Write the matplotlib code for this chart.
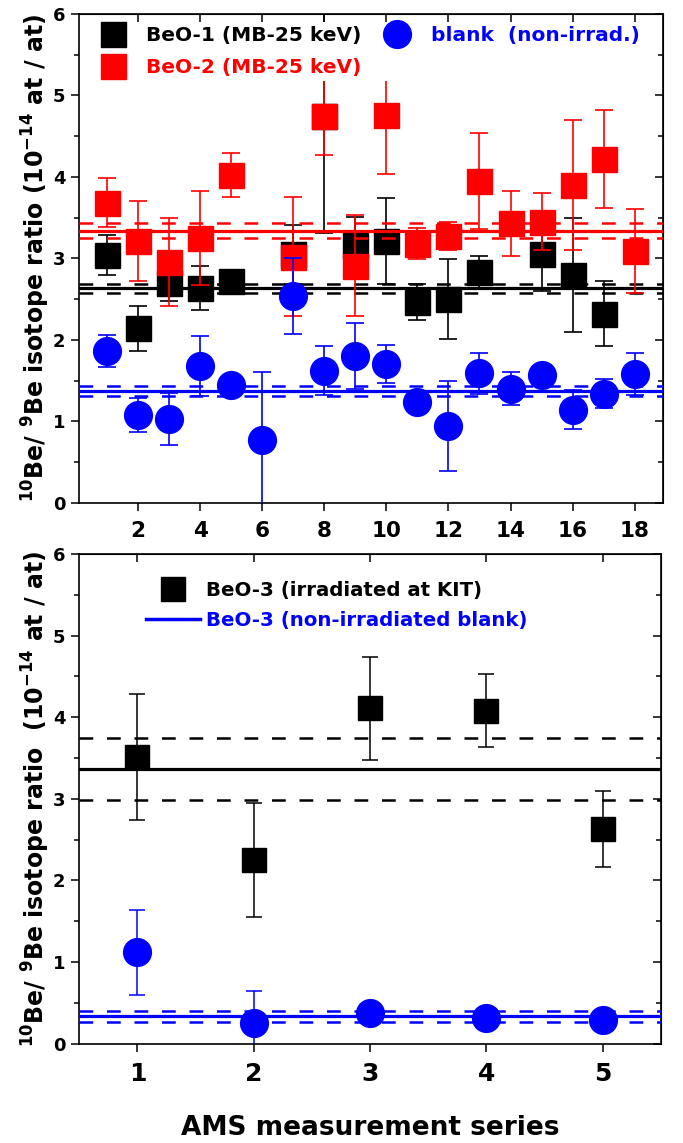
import matplotlib
matplotlib.use('Agg')
import matplotlib.pyplot as plt
from matplotlib.lines import Line2D
from matplotlib.ticker import MultipleLocator

plt.rcParams['font.family'] = ['DejaVu Sans']
plt.rcParams['font.weight'] = 'bold'
plt.rcParams['mathtext.fontset'] = 'dejavusans'
plt.rcParams['mathtext.default'] = 'bf'

# top panel: MB-25 keV samples and blank
beo1_x = [1, 2, 3, 4, 5, 7, 8, 9, 10, 11, 12, 13, 15, 16, 17]
beo1_y = [3.04, 2.14, 2.70, 2.63, 2.72, 3.05, 4.75, 3.16, 3.21, 2.46, 2.50, 2.83, 3.05, 2.80, 2.32]
beo1_err = [0.25, 0.28, 0.23, 0.27, 0.05, 0.36, 1.44, 0.35, 0.53, 0.22, 0.49, 0.20, 0.45, 0.70, 0.40]

beo2_x = [1, 2, 3, 4, 5, 7, 8, 9, 10, 11, 12, 13, 14, 15, 16, 17, 18]
beo2_y = [3.68, 3.21, 2.96, 3.25, 4.02, 3.02, 4.75, 2.91, 4.76, 3.18, 3.27, 3.95, 3.43, 3.45, 3.90, 4.22, 3.09]
beo2_err = [0.30, 0.49, 0.54, 0.58, 0.27, 0.73, 0.48, 0.62, 0.73, 0.19, 0.17, 0.59, 0.40, 0.35, 0.80, 0.60, 0.51]

blank_x = list(range(1, 19))
blank_y = [1.86, 1.08, 1.03, 1.68, 1.44, 0.77, 2.54, 1.62, 1.80, 1.70, 1.24, 0.94,
           1.59, 1.40, 1.57, 1.14, 1.34, 1.58]
blank_err = [0.20, 0.21, 0.32, 0.37, 0.05, 0.84, 0.47, 0.30, 0.40, 0.23, 0.05, 0.55,
             0.25, 0.20, 0.05, 0.24, 0.18, 0.26]

beo1_mean, beo1_sd = 2.63, 0.055
beo2_mean, beo2_sd = 3.34, 0.09
blank_mean, blank_sd = 1.37, 0.06

# bottom panel: KIT irradiation
kit_x = [1, 2, 3, 4, 5]
kit_y = [3.51, 2.25, 4.11, 4.08, 2.63]
kit_err = [0.77, 0.70, 0.63, 0.45, 0.47]
kit_blank_y = [1.12, 0.25, 0.38, 0.31, 0.29]
kit_blank_err = [0.52, 0.39, 0.03, 0.03, 0.03]
kit_mean, kit_sd = 3.37, 0.38
kit_blank_mean, kit_blank_sd = 0.335, 0.065

ylabel_top = r'$^{10}$Be/ $^{9}$Be isotope ratio (10$^{-14}$ at / at)'
ylabel_bot = r'$^{10}$Be/ $^{9}$Be isotope ratio  (10$^{-14}$ at / at)'

fig = plt.figure(figsize=(6.83, 11.43), dpi=100)
ax1 = fig.add_axes([0.1161, 0.5602, 0.8539, 0.4276])
ax2 = fig.add_axes([0.1161, 0.0869, 0.8517, 0.4284])

dash = (5.5, 5.5)


def mean_lines(ax, m, sd, color, z):
    ax.axhline(m, color=color, lw=2.3, zorder=z)
    ax.axhline(m + sd, color=color, lw=1.8, dashes=dash, zorder=z)
    ax.axhline(m - sd, color=color, lw=1.8, dashes=dash, zorder=z)


def style_axes(ax, xlim, xmajor, xfs):
    ax.set_ylim(0, 6)
    ax.set_xlim(*xlim)
    ax.xaxis.set_major_locator(MultipleLocator(xmajor))
    ax.yaxis.set_major_locator(MultipleLocator(1))
    ax.yaxis.set_minor_locator(MultipleLocator(0.5))
    ax.tick_params(which='major', direction='out', length=6, width=1.1)
    ax.tick_params(which='minor', direction='out', length=3.5, width=1.1)
    ax.tick_params(axis='y', labelsize=13, pad=4)
    ax.tick_params(axis='x', labelsize=xfs, pad=7)
    for s in ax.spines.values():
        s.set_linewidth(1.2)
    top = ax.secondary_xaxis('top')
    top.xaxis.set_major_locator(MultipleLocator(xmajor))
    top.tick_params(direction='in', length=6, width=1.1, labeltop=False)
    right = ax.secondary_yaxis('right')
    right.yaxis.set_major_locator(MultipleLocator(1))
    right.yaxis.set_minor_locator(MultipleLocator(0.5))
    right.tick_params(which='major', direction='in', length=6, width=1.1, labelright=False)
    right.tick_params(which='minor', direction='in', length=3.5, width=1.1)


# ---- top panel
ax1.errorbar(beo1_x, beo1_y, yerr=beo1_err, fmt='s', color='black', ms=18,
             elinewidth=1.2, capsize=6.5, capthick=1.2, zorder=2)
mean_lines(ax1, beo1_mean, beo1_sd, 'black', 2.2)
ax1.errorbar(beo2_x, beo2_y, yerr=beo2_err, fmt='s', color='red', ms=18,
             elinewidth=1.2, capsize=6.5, capthick=1.2, zorder=3)
mean_lines(ax1, beo2_mean, beo2_sd, 'red', 3.2)
ax1.errorbar(blank_x, blank_y, yerr=blank_err, fmt='o', color='blue', ms=20,
             elinewidth=1.2, capsize=6.5, capthick=1.2, zorder=4)
mean_lines(ax1, blank_mean, blank_sd, 'blue', 4.2)

style_axes(ax1, (0.1, 18.9), 2, 15.5)
ax1.set_ylabel(ylabel_top, fontsize=17, fontweight='bold')
ax1.yaxis.set_label_coords(-0.047, 0.5)

handles = [Line2D([], [], marker='s', ls='none', color='black', ms=18),
           Line2D([], [], marker='s', ls='none', color='red', ms=18),
           Line2D([], [], marker='o', ls='none', color='blue', ms=20)]
labels = ['BeO-1 (MB-25 keV)', 'BeO-2 (MB-25 keV)', 'blank  (non-irrad.)']
leg = ax1.legend(handles, labels, ncol=2, loc='upper left', bbox_to_anchor=(0.0295, 0.984),
                 fontsize=14.5, labelcolor=['black', 'red', 'blue'], frameon=True,
                 facecolor='white', edgecolor='none', framealpha=1, fancybox=False,
                 borderaxespad=0, borderpad=0.2, handlelength=1.2, handletextpad=1.05,
                 columnspacing=1.2, labelspacing=0.65)
leg.set_zorder(10)

# ---- bottom panel
ax2.errorbar(kit_x, kit_y, yerr=kit_err, fmt='s', color='black', ms=17.5,
             elinewidth=1.1, capsize=6, capthick=1.1, zorder=2)
mean_lines(ax2, kit_mean, kit_sd, 'black', 2.2)
ax2.errorbar(kit_x, kit_blank_y, yerr=kit_blank_err, fmt='o', color='blue', ms=20,
             elinewidth=1.1, capsize=6, capthick=1.1, zorder=3)
mean_lines(ax2, kit_blank_mean, kit_blank_sd, 'blue', 3.2)

style_axes(ax2, (0.5, 5.5), 1, 18)
ax2.set_ylabel(ylabel_bot, fontsize=17, fontweight='bold')
ax2.yaxis.set_label_coords(-0.047, 0.5)
ax2.set_xlabel('AMS measurement series', fontsize=19, fontweight='bold')
ax2.xaxis.set_label_coords(0.5, -0.146)

handles2 = [Line2D([], [], marker='s', ls='none', color='black', ms=17.5),
            Line2D([], [], color='blue', lw=2.5)]
labels2 = ['BeO-3 (irradiated at KIT)', 'BeO-3 (non-irradiated blank)']
leg2 = ax2.legend(handles2, labels2, loc='upper left', bbox_to_anchor=(0.1147, 0.945),
                  fontsize=14.2, labelcolor=['black', 'blue'], frameon=False,
                  borderaxespad=0, borderpad=0, handlelength=2.75, handletextpad=0.3,
                  labelspacing=0.55)

fig.savefig('out.png', dpi=100)
